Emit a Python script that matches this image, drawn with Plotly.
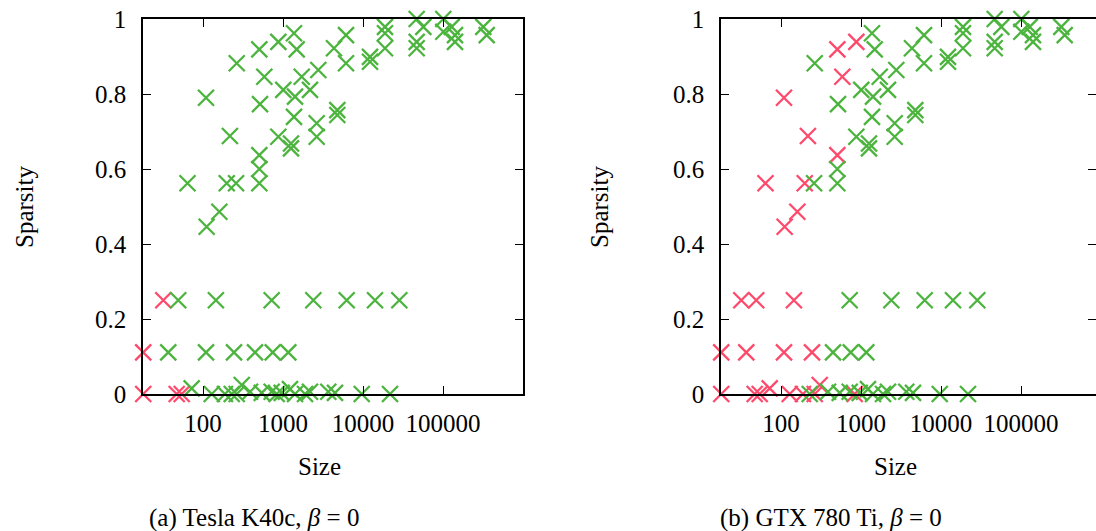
import plotly.graph_objects as go

# ---- data ----
sizes = [
    264, 109, 217, 64, 198, 259, 506, 506, 506, 506, 874, 1372, 1483, 584, 516,
    874, 1008, 1413, 1372, 1259, 1259, 1714, 2175, 2762, 2637, 2637, 4340, 6131,
    6131, 4775, 4775, 12240, 12240, 18836, 18836, 18836, 46900, 56750, 46900,
    46900, 100900, 100900, 128500, 141250, 141250, 319000, 351800,
    111, 160,
    31.9, 49, 145, 722, 2393, 6255, 14125, 28440,
    17.9, 36.8, 109, 244, 447, 744, 1165,
    17.9, 46.9, 54.2, 72.2, 128.5, 188, 228.6, 264, 305, 387, 542, 722, 834,
    964, 1223, 1413, 1884, 2175, 3681, 4467, 9640, 21750,
]
sparsity = [
    0.882, 0.790, 0.688, 0.562, 0.562, 0.562, 0.562, 0.600, 0.637, 0.919, 0.939,
    0.962, 0.919, 0.846, 0.773, 0.686, 0.811, 0.793, 0.739, 0.668, 0.655, 0.846,
    0.811, 0.864, 0.722, 0.686, 0.922, 0.957, 0.882, 0.757, 0.744, 0.899, 0.886,
    0.979, 0.962, 0.922, 1.0, 0.979, 0.939, 0.922, 1.0, 0.966, 0.979, 0.957,
    0.939, 0.979, 0.957,
    0.446, 0.486,
    0.25, 0.25, 0.25, 0.25, 0.25, 0.25, 0.25, 0.25,
    0.111, 0.111, 0.111, 0.111, 0.111, 0.111, 0.111,
    0.0, 0.0, 0.0, 0.015, 0.0, 0.0, 0.0, 0.0, 0.024, 0.006, 0.003, 0.006, 0.0,
    0.003, 0.013, 0.0, 0.0, 0.006, 0.006, 0.003, 0.0, 0.0,
]
# class of each point on each GPU: "r" = red marker, "g" = green marker
k40c_class = (
    ["g"] * 47
    + ["g", "g"]
    + ["r", "g", "g", "g", "g", "g", "g", "g"]
    + ["r", "g", "g", "g", "g", "g", "g"]
    + ["r", "r", "r", "g", "g", "g", "g", "g", "g", "g", "g", "g", "g",
       "g", "g", "g", "g", "g", "g", "g", "g", "g"]
)
gtx_class = (
    ["g", "r", "r", "r", "r", "g", "g", "g", "r", "r", "r", "g", "g", "r", "g",
     "g", "g", "g", "g", "g", "g", "g", "g", "g", "g", "g", "g", "g", "g", "g",
     "g", "g", "g", "g", "g", "g", "g", "g", "g", "g", "g", "g", "g", "g", "g",
     "g", "g"]
    + ["r", "r"]
    + ["r", "r", "r", "g", "g", "g", "g", "g"]
    + ["r", "r", "r", "r", "g", "g", "g"]
    + ["r", "r", "r", "r", "r", "r", "g", "r", "r", "g", "g", "g", "r",
       "g", "g", "g", "g", "g", "g", "g", "g", "g"]
)

x_tick_vals = [100, 1000, 10000, 100000]
x_tick_text = ["100", "1000", "10000", "100000"]
y_tick_vals = [0, 0.2, 0.4, 0.6, 0.8, 1]
y_tick_text = ["0", "0.2", "0.4", "0.6", "0.8", "1"]
captions = ["(a) Tesla K40c, <i>β</i> = 0", "(b) GTX 780 Ti, <i>β</i> = 0"]

RED = "#fd4a6c"
GREEN = "#4cb43e"
W, H = 1096, 531
FONT = "Liberation Serif, Times New Roman, serif"

fig = go.Figure()

for idx, classes in enumerate([k40c_class, gtx_class]):
    xa = "x" if idx == 0 else "x2"
    ya = "y" if idx == 0 else "y2"
    for cls, col in (("r", RED), ("g", GREEN)):
        xs = [s for s, c in zip(sizes, classes) if c == cls]
        ys = [v for v, c in zip(sparsity, classes) if c == cls]
        fig.add_trace(go.Scatter(
            x=xs, y=ys, mode="markers", xaxis=xa, yaxis=ya,
            cliponaxis=False, showlegend=False,
            marker=dict(symbol="x-thin", size=16,
                        line=dict(color=col, width=2.3), color=col),
        ))

axis_common = dict(
    showline=True, linecolor="black", linewidth=1.5, mirror="ticks",
    ticks="inside", ticklen=8, tickwidth=1, tickcolor="black",
    showgrid=False, zeroline=False, automargin=False,
    tickfont=dict(family=FONT, size=25, color="black"),
)

ydom = [(H - 394) / H, (H - 19) / H]
fig.update_layout(
    template="none",
    width=W, height=H,
    margin=dict(l=0, r=0, t=0, b=0, autoexpand=False),
    paper_bgcolor="white", plot_bgcolor="white",
    font=dict(family=FONT, size=24, color="black"),
    xaxis=dict(domain=[143 / W, 523 / W], type="log", range=[1.25, 6],
               tickvals=x_tick_vals, ticktext=x_tick_text, anchor="y",
               ticklabelstandoff=6, **axis_common),
    yaxis=dict(domain=ydom, range=[0, 1], tickvals=y_tick_vals,
               ticktext=y_tick_text, anchor="x", ticklabelstandoff=10,
               **axis_common),
    xaxis2=dict(domain=[721 / W, 1.0], type="log", range=[1.25, 1.25 + 375 / 80],
                tickvals=x_tick_vals, ticktext=x_tick_text, anchor="y2",
                ticklabelstandoff=6, **axis_common),
    yaxis2=dict(domain=ydom, range=[0, 1], tickvals=y_tick_vals,
                ticktext=y_tick_text, anchor="x2", ticklabelstandoff=10,
                **axis_common),
)

anns = []
for cx in (319, 895):
    anns.append(dict(text="Size", x=cx / W, y=(H - 466) / H, xref="paper",
                     yref="paper", showarrow=False, xanchor="center",
                     yanchor="middle", font=dict(family=FONT, size=25)))
for cx in (25, 600):
    anns.append(dict(text="Sparsity", x=cx / W, y=(H - 207) / H, xref="paper",
                     yref="paper", showarrow=False, textangle=-90,
                     xanchor="center", yanchor="middle",
                     font=dict(family=FONT, size=25)))
for cx, cap in zip((254, 831), captions):
    anns.append(dict(text=cap, x=cx / W, y=(H - 518) / H, xref="paper",
                     yref="paper", showarrow=False, xanchor="center",
                     yanchor="middle", font=dict(family=FONT, size=25)))
fig.update_layout(annotations=anns)

fig.write_html("out.html")
